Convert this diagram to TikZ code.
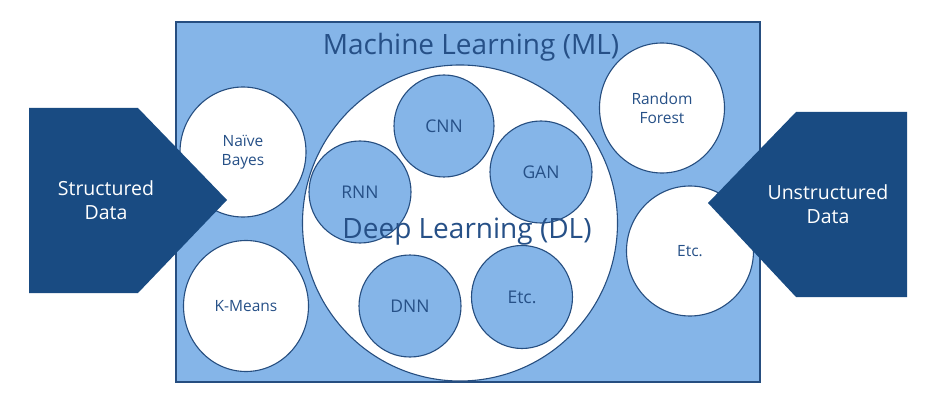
\documentclass[tikz,border=0pt]{standalone}
\usepackage{fontspec}
\setmainfont{Open Sans}
\usetikzlibrary{shapes.geometric}
\definecolor{mlfill}{RGB}{133,181,232}
\definecolor{mlline}{RGB}{38,78,128}
\definecolor{arrowfill}{RGB}{25,75,130}
\definecolor{txt}{RGB}{38,80,135}
\tikzset{
  algo/.style={ellipse, draw=mlline, line width=1.1pt, fill=white, text=txt,
    font=\fontsize{15.5}{19}\selectfont, align=center, inner sep=0pt},
  dlalgo/.style={algo, fill=mlfill, font=\fontsize{17.5}{20}\selectfont},
  bigtitle/.style={text=txt, font=\fontsize{28}{30}\selectfont, inner sep=0pt},
  datatext/.style={text=white, font=\fontsize{19.5}{24}\selectfont, align=center},
}
\begin{document}
\begin{tikzpicture}[x=1pt,y=-1pt]
\useasboundingbox (0,0) rectangle (943,409);
\fill[white] (0,0) rectangle (943,409);
% Machine learning box
\node[draw=mlline, line width=1.2pt, fill=mlfill, minimum width=584pt, minimum height=360pt, inner sep=0pt] (ml) at (468,202) {};
% classical ML circles
\node[algo, minimum width=126pt, minimum height=130pt] (nb) at (243,152) {Naïve\\Bayes};
\node[algo, minimum width=125pt, minimum height=131pt] (km) at (246,306) {K-Means};
\node[algo, minimum width=125pt, minimum height=130pt] (rf) at (662,108) {Random\\Forest};
\node[algo, minimum width=127pt, minimum height=130pt] (etc1) at (690,251) {Etc.};
% deep learning circle
\node[algo, minimum width=315pt, minimum height=316pt] (dl) at (460,223) {};
\node[dlalgo, minimum width=100pt, minimum height=102pt] (cnn) at (444,126) {CNN};
\node[dlalgo, minimum width=102pt, minimum height=102pt] (gan) at (541,172) {GAN};
\node[dlalgo, minimum width=102pt, minimum height=102pt] (rnn) at (360,192) {RNN};
\node[dlalgo, minimum width=102pt, minimum height=102pt] (dnn) at (410,306) {DNN};
\node[dlalgo, minimum width=101pt, minimum height=103pt] (etc2) at (522,297) {Etc.};
% titles
\node[bigtitle] (mltitle) at (471,47) {Machine Learning (ML)};
\node[bigtitle] (dltitle) at (467,232) {Deep Learning (DL)};
% data arrows
\fill[arrowfill] (29,108) -- (138,108) -- (227,200) -- (138,293) -- (29,293) -- cycle;
\node[datatext] (sd) at (106,200) {Structured\\Data};
\fill[arrowfill] (907,112) -- (796,112) -- (708,203) -- (796,297) -- (907,297) -- cycle;
\node[datatext] (ud) at (828,204) {Unstructured\\Data};
\end{tikzpicture}
\end{document}
